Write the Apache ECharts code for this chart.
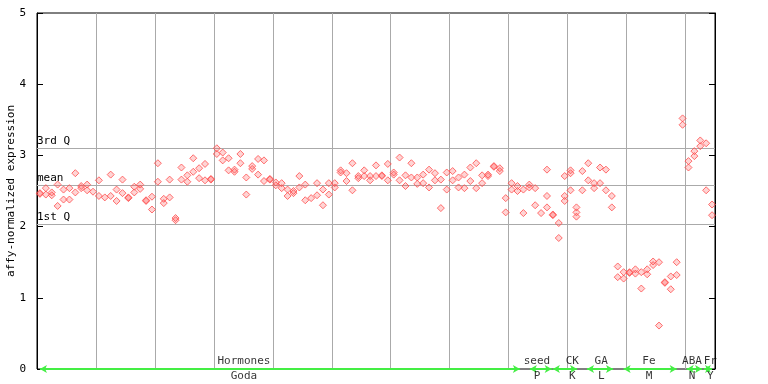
<!DOCTYPE html>
<html>
<head>
<meta charset="utf-8">
<script src="https://cdn.jsdelivr.net/npm/echarts@6/dist/echarts.min.js"></script>
<style>html,body{margin:0;padding:0;background:#fff;}#c{width:768px;height:384px;}</style>
</head>
<body>
<div id="c"></div>
<script>
// replicate values per sample (index = sample number)
var rep1 = [2.47,2.54,2.48,2.59,2.52,2.54,2.75,2.57,2.59,2.49,
            2.65,2.41,2.73,2.52,2.66,2.41,2.56,2.59,2.37,2.42,
            2.89,2.39,2.66,2.12,2.83,2.72,2.96,2.82,2.88,2.67,
            3.10,3.04,2.96,2.80,3.02,2.69,2.85,2.95,2.93,2.67,
            2.62,2.61,2.52,2.50,2.71,2.59,2.40,2.61,2.52,2.61,
            2.61,2.79,2.75,2.89,2.71,2.79,2.71,2.86,2.72,2.88,
            2.76,2.97,2.72,2.89,2.69,2.73,2.80,2.75,2.66,2.76,
            2.78,2.69,2.73,2.83,2.89,2.72,2.73,2.85,2.82,2.40,
            2.61,2.57,2.52,2.59,2.54,2.19,2.80,2.17,2.05,2.71,
            2.79,2.27,2.78,2.89,2.61,2.83,2.80,2.43,1.44,1.36,
            1.36,1.40,1.36,1.40,1.51,1.50,1.22,1.30,1.50,3.52,
            2.92,3.06,3.21,3.17,2.31];
var rep2 = [2.46,2.45,2.44,2.29,2.38,2.38,2.48,2.54,2.51,null,
            2.43,null,2.43,2.36,2.47,2.40,2.48,2.53,2.36,2.24,
            2.63,2.33,2.41,2.09,2.66,2.63,2.77,2.68,2.65,2.66,
            3.02,2.93,2.79,2.77,2.89,2.45,2.81,2.73,2.64,2.66,
            2.58,2.54,2.43,2.47,2.55,2.37,null,2.44,2.30,2.45,
            2.55,2.76,2.64,2.51,2.68,2.71,2.65,2.71,2.71,2.65,
            2.73,2.65,2.57,2.69,2.60,2.61,2.55,2.65,2.26,2.52,
            2.65,2.55,2.54,2.64,2.54,2.61,2.71,2.84,2.78,2.20,
            2.52,2.50,2.19,2.55,2.30,null,2.43,2.16,1.84,2.43,
            2.75,2.20,2.51,2.65,2.54,2.61,2.51,2.27,1.29,1.27,
            1.35,1.34,1.13,1.33,1.46,0.61,1.21,1.12,1.32,3.43,
            2.83,2.99,3.13,2.51,2.16];
var rep3Idx = [86, 89, 90, 91];
var rep3Val = [2.27, 2.36, 2.51, 2.14];

// reference lines
var refNames = ['3rd Q', 'mean', '1st Q'];
var refValues = [3.10, 2.58, 2.03];

// sample groups along the x axis (in sample units)
var groupTop = ['Hormones', 'seed', 'CK', 'GA', 'Fe', 'ABA', 'Fr'];
var groupBottom = ['Goda', 'P', 'K', 'L', 'M', 'N', 'Y'];
var groupStart = [0.5, 83.6, 87.5, 93.3, 99.5, 110.2, 113.1];
var groupEnd = [81.9, 87.3, 91.6, 97.7, 108.5, 112.8, 114.5];
var groupLabelAt = [35.1, 84.8, 90.8, 95.7, 103.8, 111.1, 114.2];

var yTicks = [0, 1, 2, 3, 4, 5];
var nSamples = 115;

var FONT = 'DejaVu Sans Mono';
var RED = '#ff4d4d';

function toPoints(arr) {
  var out = [];
  for (var i = 0; i < arr.length; i++) {
    if (arr[i] !== null) out.push([i + 0.5, arr[i]]);
  }
  return out;
}
var p3 = rep3Idx.map(function (idx, k) { return [idx + 0.5, rep3Val[k]]; });

var pointStyle = {
  type: 'scatter',
  symbol: 'diamond',
  symbolSize: 7,
  itemStyle: { color: 'rgba(255,77,77,0.3)', borderColor: RED, borderWidth: 1 },
  emphasis: { disabled: true },
  silent: true,
  z: 5
};

var arrowLines = groupStart.map(function (s, k) {
  return [{ coord: [s, 0] }, { coord: [groupEnd[k], 0] }];
});

var refLines = refValues.map(function (v, k) {
  return {
    yAxis: v,
    label: { formatter: refNames[k] }
  };
});

var topLabels = groupLabelAt.map(function (x, k) {
  return { value: [x, 0], label: { formatter: groupTop[k] } };
});
var bottomLabels = groupLabelAt.map(function (x, k) {
  return { value: [x, 0], label: { formatter: groupBottom[k] } };
});

var chart = echarts.init(document.getElementById('c'), null, { renderer: 'canvas' });
chart.setOption({
  animation: false,
  backgroundColor: '#fff',
  grid: { left: 37, right: 53, top: 13, bottom: 15, containLabel: false, outerBoundsMode: 'none',
          show: true, borderColor: '#000', borderWidth: 1, backgroundColor: 'transparent' },
  xAxis: {
    type: 'value', min: 0, max: nSamples, interval: 10,
    axisLine: { show: false }, axisTick: { show: false }, axisLabel: { show: false },
    splitLine: { show: true, lineStyle: { color: '#aaaaaa', width: 1 } }
  },
  yAxis: [{
    type: 'value', min: 0, max: 5, interval: 1,
    name: 'affy-normalized expression', nameLocation: 'middle', nameGap: 20, nameRotate: 90,
    nameMoveOverlap: false,
    nameTextStyle: { fontFamily: FONT, fontSize: 11, color: '#000' },
    axisLine: { show: true, lineStyle: { color: '#000' } },
    axisTick: { show: true, inside: true, length: 6, lineStyle: { color: '#000' } },
    axisLabel: { fontFamily: FONT, fontSize: 11, color: '#000', margin: 11 },
    splitLine: { show: false }
  }, {
    type: 'value', min: 0, max: 5, interval: 1, position: 'right',
    axisLine: { show: true, lineStyle: { color: '#000' } },
    axisTick: { show: true, inside: true, length: 6, lineStyle: { color: '#000' } },
    axisLabel: { show: false },
    splitLine: { show: false }
  }],
  series: [
    Object.assign({}, pointStyle, { name: 'rep1', data: toPoints(rep1),
      markLine: {
        silent: true, symbol: 'none',
        lineStyle: { color: '#aaaaaa', width: 1, type: 'solid' },
        label: { show: true, position: 'insideStartTop', distance: [0, 2], fontFamily: FONT, fontSize: 11, color: '#000', padding: 0 },
        emphasis: { disabled: true },
        data: refLines
      }
    }),
    Object.assign({}, pointStyle, { name: 'rep2', data: toPoints(rep2) }),
    Object.assign({}, pointStyle, { name: 'rep3', data: p3 }),
    {
      type: 'scatter', name: 'groupsTop', symbolSize: 0, silent: true, clip: false, z: 10,
      data: topLabels,
      label: { show: true, position: 'top', distance: 2, fontFamily: FONT, fontSize: 11, color: '#000' },
      markLine: {
        silent: true, symbol: ['arrow', 'arrow'], symbolSize: [6, 7],
        lineStyle: { color: '#44ee44', width: 2, type: 'solid' },
        itemStyle: { color: '#44ee44' },
        label: { show: false },
        emphasis: { disabled: true },
        data: arrowLines
      }
    },
    {
      type: 'scatter', name: 'groupsBottom', symbolSize: 0, silent: true, clip: false, z: 10,
      data: bottomLabels,
      label: { show: true, position: 'bottom', distance: 2, fontFamily: FONT, fontSize: 11, color: '#000' }
    }
  ]
});
</script>
</body>
</html>
